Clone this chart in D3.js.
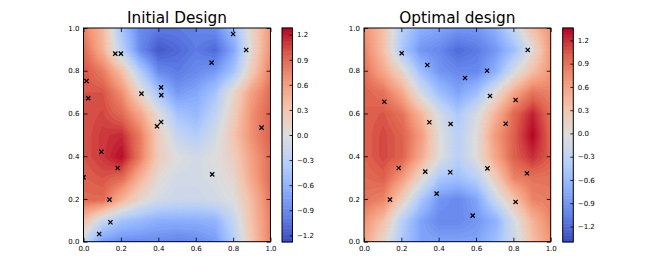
<!DOCTYPE html>
<html><head><meta charset="utf-8">
<script src="https://cdn.jsdelivr.net/npm/d3@7"></script>
<style>body{margin:0;background:#fff} text{font-family:"DejaVu Sans",sans-serif}</style>
</head><body><svg id="chart" width="664" height="277"></svg>
<script>
// ---- data ----
const gridX = [0.0, 0.1, 0.2, 0.3, 0.4, 0.5, 0.6, 0.7, 0.8, 0.9, 1.0];
const gridY = [1.0, 0.9, 0.8, 0.7, 0.6, 0.5, 0.4, 0.3, 0.2, 0.1, 0.0]; // rows top -> bottom

const initialValues = [
  [0.75, 0.4, -0.45, -0.9, -1.0, -1.0, -0.95, -0.9, -0.5, 0.15, 0.65],
  [0.9, 0.45, -0.25, -0.9, -1.2, -1.1, -1.0, -1.1, -0.7, 0.1, 0.7],
  [1.0, 0.8, 0.35, -0.35, -0.9, -1.0, -0.9, -0.8, -0.45, 0.25, 0.8],
  [1.0, 1.0, 0.7, 0.1, -0.45, -0.8, -0.7, -0.45, 0.1, 0.6, 0.9],
  [1.0, 1.05, 0.9, 0.55, 0.0, -0.45, -0.55, -0.25, 0.2, 0.7, 0.95],
  [1.0, 1.1, 1.15, 0.8, 0.2, -0.2, -0.35, -0.1, 0.3, 0.7, 0.95],
  [1.0, 1.1, 1.25, 0.8, 0.2, 0.0, -0.1, 0.0, 0.2, 0.6, 0.9],
  [0.95, 1.0, 0.9, 0.45, 0.05, -0.1, -0.1, -0.05, 0.1, 0.55, 0.9],
  [0.9, 0.9, 0.45, 0.1, -0.1, -0.15, -0.15, -0.1, 0.0, 0.4, 0.85],
  [0.35, -0.2, -0.45, -0.55, -0.65, -0.65, -0.65, -0.6, -0.2, 0.35, 0.8],
  [-0.2, -0.8, -0.9, -0.9, -0.9, -0.95, -0.9, -0.8, -0.35, 0.3, 0.8]
];
const optimalValues = [
  [0.7, 0.35, -0.35, -0.7, -0.8, -0.9, -0.9, -0.7, -0.25, 0.35, 0.7],
  [0.8, 0.35, -0.45, -0.9, -1.0, -1.2, -1.1, -0.9, -0.55, 0.0, 0.7],
  [0.9, 0.55, 0.1, -0.55, -0.9, -1.0, -1.0, -0.7, -0.1, 0.35, 0.7],
  [1.0, 0.9, 0.55, -0.1, -0.55, -0.8, -0.55, 0.0, 0.55, 0.9, 0.8],
  [1.0, 1.05, 0.9, 0.45, -0.1, -0.45, -0.1, 0.45, 0.95, 1.25, 0.9],
  [1.0, 1.1, 1.0, 0.65, 0.0, -0.35, 0.0, 0.65, 1.0, 1.35, 0.95],
  [1.0, 1.1, 1.0, 0.55, 0.0, -0.35, 0.0, 0.55, 1.0, 1.2, 1.0],
  [0.95, 1.0, 0.65, 0.1, -0.45, -0.55, -0.35, 0.2, 0.8, 0.9, 0.9],
  [0.9, 0.8, 0.2, -0.45, -0.9, -1.0, -0.8, -0.2, 0.3, 0.8, 0.85],
  [0.7, 0.35, -0.35, -0.8, -1.0, -1.0, -0.9, -0.7, -0.1, 0.45, 0.8],
  [0.55, 0.1, -0.45, -0.8, -0.8, -0.8, -0.8, -0.55, -0.2, 0.35, 0.7]
];

const initialPointsX = [0.17, 0.20, 0.80, 0.87, 0.685, 0.016, 0.025, 0.31, 0.415, 0.416, 0.393, 0.415, 0.952, 0.096, 0.183, 0.0, 0.139, 0.144, 0.084, 0.688];
const initialPointsY = [0.88, 0.88, 0.972, 0.897, 0.838, 0.752, 0.672, 0.693, 0.722, 0.686, 0.54, 0.56, 0.534, 0.421, 0.345, 0.301, 0.197, 0.091, 0.036, 0.315];
const optimalPointsX = [0.202, 0.339, 0.541, 0.659, 0.877, 0.109, 0.675, 0.812, 0.35, 0.464, 0.759, 0.186, 0.328, 0.462, 0.661, 0.873, 0.139, 0.389, 0.812, 0.582];
const optimalPointsY = [0.882, 0.827, 0.766, 0.80, 0.897, 0.655, 0.682, 0.663, 0.559, 0.551, 0.552, 0.345, 0.328, 0.325, 0.343, 0.32, 0.197, 0.225, 0.186, 0.122];

const axisTicks = [0.0, 0.2, 0.4, 0.6, 0.8, 1.0];
const colorbarTicks = [-1.2, -0.9, -0.6, -0.3, 0.0, 0.3, 0.6, 0.9, 1.2];
const titles = ["Initial Design", "Optimal design"];
const initialRange = [-1.28, 1.28];
const optimalRange = [-1.40, 1.36];
const levelStep = 0.04;

// ---- coolwarm colormap ----
const cwStops = ["#3b4cc0", "#6282ea", "#8db0fe", "#b8d0f9", "#dddddd", "#f5c4ad", "#f49a7b", "#de604d", "#b40426"];
const coolwarm = d3.scaleLinear().domain(d3.range(9).map(i => i / 8)).range(cwStops).interpolate(d3.interpolateRgb).clamp(true);

const svg = d3.select("#chart");
const fmtTick = d3.format(".1f");

function bilinear(vals, x, y) {
  const nx = gridX.length - 1, ny = gridY.length - 1;
  const fx = x * nx, fy = (1 - y) * ny;
  const i0 = Math.min(Math.floor(fx), nx - 1), j0 = Math.min(Math.floor(fy), ny - 1);
  const tx = fx - i0, ty = fy - j0;
  const a = vals[j0][i0], b = vals[j0][i0 + 1], c = vals[j0 + 1][i0], d = vals[j0 + 1][i0 + 1];
  return (a * (1 - tx) + b * tx) * (1 - ty) + (c * (1 - tx) + d * tx) * ty;
}

function panel(cfg) {
  const {x0, x1, y0, y1, cb0, cb1, values, px, py, range, title, id} = cfg;
  const x = d3.scaleLinear().domain([0, 1]).range([x0, x1]);
  const y = d3.scaleLinear().domain([0, 1]).range([y1, y0]);
  const g = svg.append("g");

  g.append("clipPath").attr("id", id).append("rect")
    .attr("x", x0).attr("y", y0).attr("width", x1 - x0).attr("height", y1 - y0);

  const N = 161;
  const fine = new Array(N * N);
  for (let j = 0; j < N; j++) for (let i = 0; i < N; i++) {
    fine[j * N + i] = bilinear(values, i / (N - 1), 1 - j / (N - 1));
  }
  const nb = Math.round((range[1] - range[0]) / levelStep);
  const thresholds = d3.range(nb).map(k => range[0] + k * levelStep);
  const norm = d3.scaleLinear().domain(range).range([0, 1]);
  const gx = d3.scaleLinear().domain([0, N - 1]).range([x0, x1]);
  const gy = d3.scaleLinear().domain([0, N - 1]).range([y0, y1]);
  const proj = d3.geoTransform({point(a, b) { this.stream.point(gx(a), gy(b)); }});
  const path = d3.geoPath(proj);
  const contours = d3.contours().size([N, N]).thresholds(thresholds)(fine);

  const cg = g.append("g").attr("clip-path", `url(#${id})`);
  cg.append("rect").attr("x", x0).attr("y", y0).attr("width", x1 - x0).attr("height", y1 - y0)
    .attr("fill", coolwarm(norm(range[0] + levelStep / 2)));
  cg.selectAll("path.c").data(contours).join("path").attr("class", "c")
    .attr("d", path)
    .attr("fill", d => coolwarm(norm(d.value + levelStep / 2)))
    .attr("stroke", d => coolwarm(norm(d.value + levelStep / 2)))
    .attr("stroke-width", 0.3);

  const pts = px.map((v, i) => [v, py[i]]);
  const s = 2.1;
  cg.selectAll("path.m").data(pts).join("path").attr("class", "m")
    .attr("d", d => `M${x(d[0]) - s},${y(d[1]) - s}L${x(d[0]) + s},${y(d[1]) + s}M${x(d[0]) - s},${y(d[1]) + s}L${x(d[0]) + s},${y(d[1]) - s}`)
    .attr("stroke", "#000").attr("stroke-width", 1.25).attr("fill", "none");

  const tl = 4;
  const bottom = d3.axisBottom(x).tickValues(axisTicks).tickFormat(fmtTick).tickSizeInner(-tl).tickSizeOuter(0).tickPadding(4);
  const left = d3.axisLeft(y).tickValues(axisTicks).tickFormat(fmtTick).tickSizeInner(-tl).tickSizeOuter(0).tickPadding(4);
  const top = d3.axisTop(x).tickValues(axisTicks).tickFormat("").tickSizeInner(-tl).tickSizeOuter(0);
  const right = d3.axisRight(y).tickValues(axisTicks).tickFormat("").tickSizeInner(-tl).tickSizeOuter(0);
  const styleAxis = sel => {
    sel.select(".domain").remove();
    sel.selectAll("line").attr("stroke", "#000").attr("stroke-width", 0.8);
    sel.selectAll("text").attr("font-size", 7).attr("fill", "#000").attr("font-family", "DejaVu Sans");
  };
  g.append("g").attr("transform", `translate(0,${y1})`).call(bottom).call(styleAxis);
  g.append("g").attr("transform", `translate(${x0},0)`).call(left).call(styleAxis);
  g.append("g").attr("transform", `translate(0,${y0})`).call(top).call(styleAxis);
  g.append("g").attr("transform", `translate(${x1},0)`).call(right).call(styleAxis);

  g.append("rect").attr("x", x0).attr("y", y0).attr("width", x1 - x0).attr("height", y1 - y0)
    .attr("fill", "none").attr("stroke", "#000").attr("stroke-width", 1);

  g.append("text").attr("x", (x0 + x1) / 2).attr("y", y0 - 5).attr("text-anchor", "middle")
    .attr("font-size", 15.3).attr("fill", "#000").text(title);

  const yc = d3.scaleLinear().domain(range).range([y1 + 0.3, y0]);
  const cbg = g.append("g");
  cbg.selectAll("rect.b").data(thresholds).join("rect").attr("class", "b")
    .attr("x", cb0).attr("width", cb1 - cb0)
    .attr("y", d => yc(d + levelStep) - 0.3)
    .attr("height", d => yc(d) - yc(d + levelStep) + 0.6)
    .attr("fill", d => coolwarm(norm(d + levelStep / 2)));
  const cax = d3.axisRight(yc).tickValues(colorbarTicks).tickFormat(fmtTick).tickSizeInner(-3).tickSizeOuter(0).tickPadding(4.5);
  cbg.append("g").attr("transform", `translate(${cb1},0)`).call(cax).call(styleAxis);
  cbg.append("rect").attr("x", cb0).attr("y", y0).attr("width", cb1 - cb0).attr("height", y1 + 0.3 - y0)
    .attr("fill", "none").attr("stroke", "#000").attr("stroke-width", 1);
}

panel({id: "clipA", x0: 83.5, x1: 270.5, y0: 28, y1: 241.7, cb0: 282, cb1: 292.5,
  values: initialValues, px: initialPointsX, py: initialPointsY, range: initialRange, title: titles[0]});
panel({id: "clipB", x0: 364, x1: 550.7, y0: 28, y1: 241.7, cb0: 562.7, cb1: 573.3,
  values: optimalValues, px: optimalPointsX, py: optimalPointsY, range: optimalRange, title: titles[1]});
</script></body></html>
